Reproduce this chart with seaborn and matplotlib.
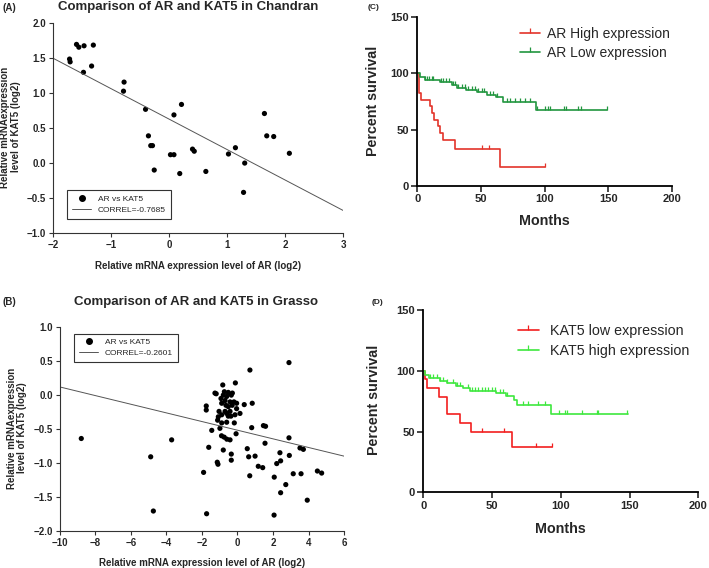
import numpy as np
import pandas as pd
import matplotlib
matplotlib.use("Agg")
import matplotlib.pyplot as plt
from matplotlib.lines import Line2D
import seaborn as sns

# ---------------- data ----------------
# Panel A: Chandran
a_ar = [-1.72, -1.71, -1.60, -1.56, -1.47, -1.31, -1.48, -1.34, -0.78, -0.79,
        -0.41, -0.36, -0.32, -0.29, -0.26, 0.02, 0.08, 0.08, 0.21, 0.18,
        0.40, 0.43, 0.63, 1.02, 1.14, 1.30, 1.28, 1.64, 1.68, 1.80, 2.07]
a_kat5 = [1.49, 1.45, 1.70, 1.66, 1.68, 1.69, 1.30, 1.39, 1.16, 1.03,
          0.77, 0.39, 0.25, 0.25, -0.10, 0.12, 0.12, 0.69, 0.84, -0.15,
          0.20, 0.17, -0.12, 0.13, 0.22, 0.00, -0.42, 0.71, 0.39, 0.38, 0.14]
a_line_x = [-2.0, 3.0]
a_line_y = [1.50, -0.68]

# Panel B: Grasso
b_ar = [-8.80, -4.89, -4.74, -3.71, -1.91, -1.74, -1.62, -1.45, -1.14, -1.10,
        -0.80, -0.35, -0.35, -1.76, -1.76,
        -0.83, -0.12, -1.27, -1.20, -0.74, -0.52, -0.29, -0.93, -0.61, -0.42,
        -0.20, -0.05, -0.89, -0.52, -0.05, -1.04, -0.70, -0.42, -0.89, -0.61,
        -0.52, -0.37, -1.08, -0.14, -1.12, -0.89, -0.61, -0.18, -0.99, -0.08,
        -0.42, -0.60, -0.75, -0.90, -0.70, -0.80, -0.35, -0.65, -0.30,
        0.70, 2.90, 0.38, 0.83, 0.14, 0.80, 1.46, 1.58, 2.90, 1.55,
        0.55, 3.52, 3.71, 0.63, 0.99, 2.92, 2.39, 1.17, 1.42, 2.21,
        2.43, 0.69, 2.07, 3.14, 3.58, 4.50, 4.74, 2.72, 2.43, 3.93, 2.06]
b_kat5 = [-0.64, -0.91, -1.71, -0.66, -1.14, -1.75, -0.77, -0.52, -0.99, -1.02,
          -0.81, -0.87, -0.96, -0.16, -0.22,
          0.15, 0.18, 0.03, 0.02, 0.05, 0.04, 0.03, -0.05, -0.02, -0.10,
          -0.10, -0.12, -0.12, -0.17, -0.20, -0.24, -0.24, -0.24, -0.29, -0.27,
          -0.31, -0.31, -0.32, -0.29, -0.37, -0.41, -0.40, -0.41, -0.49, -0.57,
          -0.66, -0.65, -0.62, -0.60, -0.08, 0.00, 0.00, -0.15, -0.15,
          0.37, 0.48, -0.14, -0.12, -0.27, -0.48, -0.45, -0.46, -0.63, -0.71,
          -0.79, -0.78, -0.80, -0.91, -0.90, -0.89, -0.85, -1.05, -1.07, -1.01,
          -0.97, -1.19, -1.21, -1.16, -1.16, -1.12, -1.15, -1.32, -1.44, -1.55, -1.77]
b_line_x = [-10.0, 6.0]
b_line_y = [0.12, -0.90]

# Panel C: AR survival
c_high_t = [0, 1, 3, 10, 11.5, 13, 16.5, 18, 20, 30, 65, 100]
c_high_s = [100, 82.4, 76.5, 70.6, 64.7, 58.8, 52.9, 47.1, 41.2, 33.0, 16.5, 16.5]
c_high_cens = [51, 56, 100]
c_low_t = [0, 2, 6, 18, 27, 31, 38, 47, 55, 62, 67, 93, 149]
c_low_s = [100, 97, 94, 92, 89.5, 87, 85, 83.5, 81, 78.5, 74.5, 67, 67]
c_low_cens = [6.1, 7.9, 9.4, 11.3, 12.6, 18.4, 20.5, 22.6, 25.2, 27.8, 29.6, 32.2,
              34.9, 37.5, 40.1, 42.8, 45.4, 48.0, 50.6, 52.4, 57.2, 59.7, 62.4,
              70.3, 72.9, 76.8, 80.7, 84.7, 88.6, 93.8, 100.3, 103, 104.5, 115.3,
              116.9, 126.6, 128.4, 149]

# Panel D: KAT5 survival
d_low_t = [0, 1, 2.5, 11.5, 17.5, 27, 35, 64.5, 93.5]
d_low_s = [100, 92.9, 85.7, 78.6, 64.3, 57.1, 50, 37.5, 37.5]
d_low_cens = [42.5, 58.5, 82, 93.5]
d_high_t = [0, 1.2, 4, 12, 17, 24, 29, 34, 53, 60, 66, 68, 93, 149]
d_high_s = [100, 96.5, 94, 91.5, 89.5, 87.5, 85.5, 83, 81.5, 79, 76, 71.5, 64.5, 64.5]
d_high_cens = [4.9, 7.3, 9.7, 12.1, 14.5, 17.0, 21.8, 24.3, 26.7, 32.7, 35.2, 37.6,
               40.0, 42.5, 44.9, 47.3, 49.7, 52.1, 55.8, 58.2, 60.7, 72.7, 76.4,
               83.6, 88.5, 98.9, 103, 104.5, 115.2, 126.1, 127.3, 148.4]

# ---------------- style ----------------
sns.set_style("ticks")
plt.rcParams['font.family'] = ['Liberation Sans', 'DejaVu Sans']
plt.rcParams['axes.unicode_minus'] = True

fig = plt.figure(figsize=(7.09, 5.68), dpi=100)
axA = fig.add_axes([0.0752, 0.590, 0.409, 0.3687])
axB = fig.add_axes([0.0846, 0.0657, 0.4006, 0.358])
axC = fig.add_axes([0.5886, 0.6725, 0.3588, 0.298])
axD = fig.add_axes([0.597, 0.1333, 0.3879, 0.321])


def style_scatter_axes(ax):
    sns.despine(ax=ax)
    for sp in ['left', 'bottom']:
        ax.spines[sp].set_color('#333333')
        ax.spines[sp].set_linewidth(0.8)
    ax.tick_params(direction='out', length=3, width=0.8, labelsize=7, pad=2,
                   color='#333333')
    for lab in ax.get_xticklabels() + ax.get_yticklabels():
        lab.set_fontweight('bold')


def scatter_panel(ax, x, y, lx, ly, corr_txt, xlim, ylim, xticks, yticks,
                  leg_loc, leg_anchor, xlab_y, ylab_x):
    sns.scatterplot(x=x, y=y, ax=ax, color='black', s=14, edgecolor='none',
                    legend=False)
    sns.lineplot(x=lx, y=ly, ax=ax, color='#555555', lw=0.7, legend=False)
    ax.set_xlim(*xlim)
    ax.set_ylim(*ylim)
    ax.set_xticks(xticks)
    ax.set_yticks(yticks)
    ax.set_yticklabels([f"{v:.1f}".replace('-', '\u2212') for v in yticks])
    ax.set_xticklabels([f"{v:g}".replace('-', '\u2212') for v in xticks])
    style_scatter_axes(ax)
    ax.set_xlabel("Relative mRNA expression level of AR (log2)", fontsize=7,
                  fontweight='bold')
    ax.xaxis.set_label_coords(0.5, xlab_y)
    ax.set_ylabel("Relative mRNAexpression\nlevel of KAT5 (log2)", fontsize=7,
                  fontweight='bold', linespacing=1.05)
    ax.yaxis.set_label_coords(ylab_x, 0.505)
    handles = [Line2D([0], [0], marker='o', color='none', markerfacecolor='black',
                      markeredgecolor='black', markersize=4),
               Line2D([0], [0], color='#555555', lw=0.7)]
    leg = ax.legend(handles, ['AR vs KAT5', corr_txt], loc=leg_loc,
                    bbox_to_anchor=leg_anchor, fontsize=6, frameon=True,
                    fancybox=False, framealpha=1, edgecolor='#333333',
                    handlelength=2.3, borderpad=0.6, labelspacing=0.35,
                    handletextpad=0.8)
    leg.get_frame().set_linewidth(0.8)


scatter_panel(axA, a_ar, a_kat5, a_line_x, a_line_y, 'CORREL=-0.7685',
              (-2, 3), (-1.0, 2.0), [-2, -1, 0, 1, 2, 3],
              [-1.0, -0.5, 0.0, 0.5, 1.0, 1.5, 2.0],
              'lower left', (0.033, 0.046), -0.135, -0.112)
scatter_panel(axB, b_ar, b_kat5, b_line_x, b_line_y, 'CORREL=-0.2601',
              (-10, 6), (-2.0, 1.0), [-10, -8, -6, -4, -2, 0, 2, 4, 6],
              [-2.0, -1.5, -1.0, -0.5, 0.0, 0.5, 1.0],
              'upper left', (0.035, 0.99), -0.135, -0.116)

fig.text(0.265, 0.988, "Comparison of AR and KAT5 in Chandran", ha='center',
         va='center', fontsize=9.5, fontweight='bold')
fig.text(0.276, 0.468, "Comparison of AR and KAT5 in Grasso", ha='center',
         va='center', fontsize=9.5, fontweight='bold')
fig.text(0.004, 0.986, "(A)", ha='left', va='center', fontsize=7, fontweight='bold')
fig.text(0.004, 0.468, "(B)", ha='left', va='center', fontsize=7, fontweight='bold')
fig.text(0.518, 0.986, "(C)", ha='left', va='center', fontsize=6, fontweight='bold')
fig.text(0.524, 0.467, "(D)", ha='left', va='center', fontsize=6, fontweight='bold')


def step_value(times, surv, t):
    idx = np.searchsorted(np.asarray(times), t, side='right') - 1
    return np.asarray(surv)[idx]


def km_panel(ax, curves, legend_labels, xlab_y, ylab_x, legend_anchor, legfs,
             textpad, lspace):
    handles = []
    for (t, s, cens, col) in curves:
        df = pd.DataFrame({'t': t, 's': s})
        sns.lineplot(data=df, x='t', y='s', ax=ax, color=col, lw=1.2,
                     drawstyle='steps-post', estimator=None, sort=False,
                     legend=False)
        cy = step_value(t, s, cens)
        sns.scatterplot(x=cens, y=cy, ax=ax, marker=2, s=9, color=col,
                        edgecolor=col, linewidth=0.9, legend=False, zorder=3)
        handles.append(Line2D([0], [0], color=col, lw=1.2, marker=2,
                              markersize=3.5, markeredgewidth=0.9))
    ax.set_xlim(0, 200)
    ax.set_ylim(0, 150)
    ax.set_xticks([0, 50, 100, 150, 200])
    ax.set_yticks([0, 50, 100, 150])
    sns.despine(ax=ax)
    for sp in ['left', 'bottom']:
        ax.spines[sp].set_color('black')
        ax.spines[sp].set_linewidth(1.3)
    ax.tick_params(direction='out', length=4, width=1.2, labelsize=8, pad=2)
    for lab in ax.get_xticklabels() + ax.get_yticklabels():
        lab.set_fontweight('bold')
    ax.set_xlabel("Months", fontsize=10.3, fontweight='bold')
    ax.xaxis.set_label_coords(0.5, xlab_y)
    ax.set_ylabel("Percent survival", fontsize=10.3, fontweight='bold')
    ax.yaxis.set_label_coords(ylab_x, 0.505)
    ax.legend(handles, legend_labels, loc='upper left',
              bbox_to_anchor=legend_anchor, fontsize=legfs, frameon=False,
              handlelength=1.45, labelspacing=lspace, handletextpad=textpad,
              borderaxespad=0, borderpad=0.4)


km_panel(axC,
         [(c_high_t, c_high_s, c_high_cens, '#e3342a'),
          (c_low_t, c_low_s, c_low_cens, '#21963f')],
         ['AR High expression', 'AR Low expression'],
         -0.165, -0.145, (0.382, 0.975), 10, 0.5, 0.4)
km_panel(axD,
         [(d_low_t, d_low_s, d_low_cens, '#f21f1f'),
          (d_high_t, d_high_s, d_high_cens, '#3ee83e')],
         ['KAT5 low expression', 'KAT5 high expression'],
         -0.165, -0.152, (0.324, 0.957), 10.3, 0.8, 0.45)

fig.savefig("out.png", dpi=100)
